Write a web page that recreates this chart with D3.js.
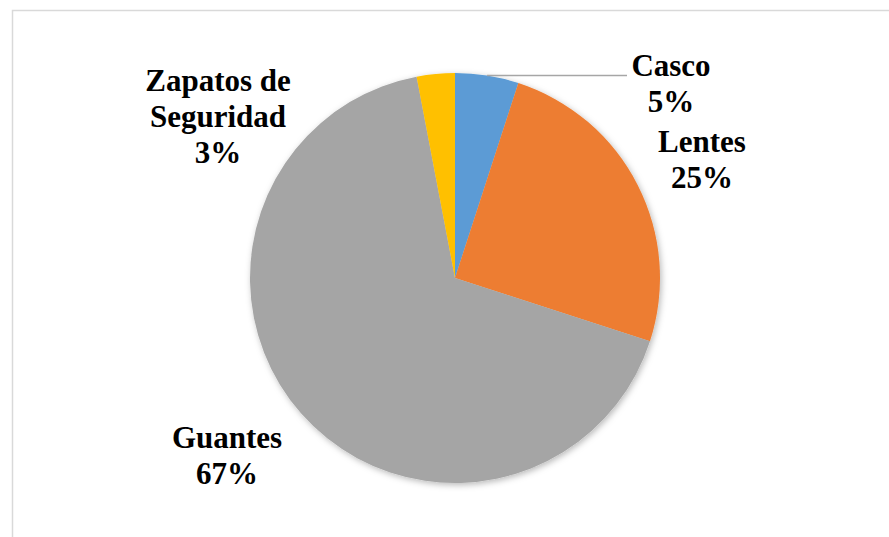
<!DOCTYPE html>
<html>
<head>
<meta charset="utf-8">
<script src="https://cdn.jsdelivr.net/npm/d3@7"></script>
<style>
  html, body { margin: 0; padding: 0; background: #ffffff; }
  svg { display: block; }
</style>
</head>
<body>
<svg id="chart" width="889" height="537"></svg>
<script>
// Equipment categories and their shares (%)
const categories = ["Casco", "Lentes", "Guantes", "Zapatos de Seguridad"];
const values = [5, 25, 67, 3];
const colors = ["#5B9BD5", "#ED7D31", "#A5A5A5", "#FFC000"];
// Label text lines per category (name lines, then percentage)
const labelLines = [["Casco"], ["Lentes"], ["Guantes"], ["Zapatos de", "Seguridad"]];
// Label anchor points (centre x, first baseline y)
const labelPos = [[671, 76], [702, 152], [227, 448], [218, 91]];

const width = 889, height = 537;
const cx = 455, cy = 278, radius = 205;

const svg = d3.select("#chart");

// Chart frame
svg.append("rect")
  .attr("x", 12.5).attr("y", 10.5)
  .attr("width", 900).attr("height", 560)
  .attr("fill", "#ffffff")
  .attr("stroke", "#d9d9d9")
  .attr("stroke-width", 1.5);

// Soft outer shadow for the pie
const defs = svg.append("defs");
const f = defs.append("filter").attr("id", "pieShadow")
  .attr("x", "-20%").attr("y", "-20%").attr("width", "140%").attr("height", "140%");
f.append("feDropShadow")
  .attr("dx", 1.5).attr("dy", 2)
  .attr("stdDeviation", 3)
  .attr("flood-color", "#000000")
  .attr("flood-opacity", 0.28);

const pie = d3.pie().sort(null).value(d => d)(values);
const arc = d3.arc().innerRadius(0).outerRadius(radius);

const g = svg.append("g").attr("transform", `translate(${cx},${cy})`);
const slices = g.append("g").attr("filter", "url(#pieShadow)");
slices.selectAll("path")
  .data(pie)
  .join("path")
  .attr("d", arc)
  .attr("fill", (d, i) => colors[i]);

// Leader line from the Casco slice to its label
const cascoMid = (pie[0].startAngle + pie[0].endAngle) / 2;
const lx = radius * Math.sin(cascoMid), ly = -radius * Math.cos(cascoMid);
g.append("line")
  .attr("x1", lx).attr("y1", ly)
  .attr("x2", 627 - cx).attr("y2", ly)
  .attr("stroke", "#a6a6a6")
  .attr("stroke-width", 1.5);

// Data labels
const lineGap = 36;
const pct = d3.format(".0f");
labelLines.forEach((lines, i) => {
  const all = lines.concat([pct(values[i]) + "%"]);
  const t = svg.append("text")
    .attr("text-anchor", "middle")
    .attr("font-family", "'Liberation Serif', 'Times New Roman', serif")
    .attr("font-weight", "bold")
    .attr("font-size", 31)
    .attr("fill", "#000000");
  all.forEach((s, k) => {
    t.append("tspan")
      .attr("x", labelPos[i][0])
      .attr("y", labelPos[i][1] + k * lineGap)
      .text(s);
  });
});
</script>
</body>
</html>
